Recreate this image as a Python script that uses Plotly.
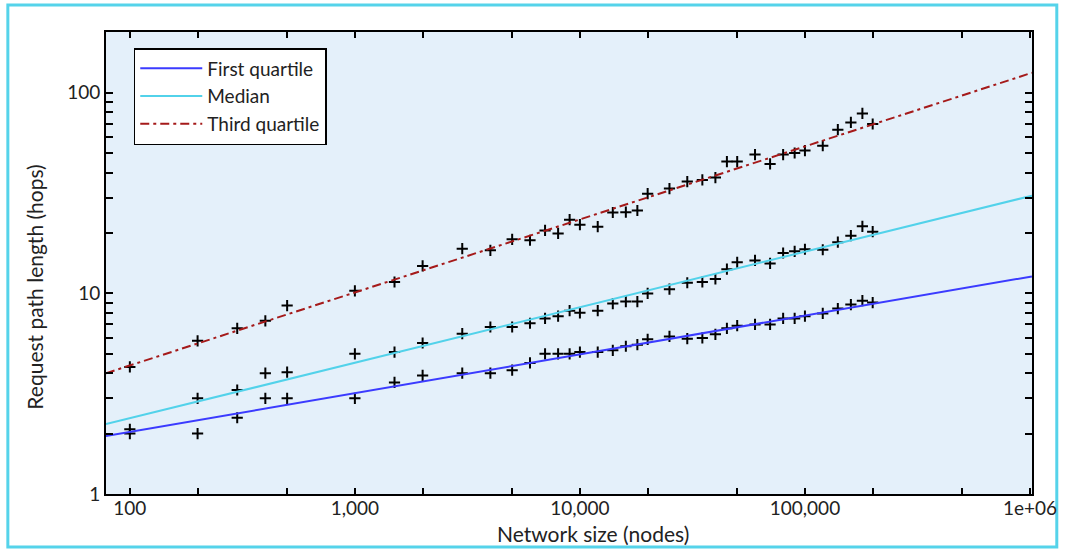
import plotly.graph_objects as go

# ---- data ----
network_size = [100, 200, 300, 400, 500, 1000, 1500, 2000, 3000, 4000, 5000, 6000, 7000, 8000,
                9000, 10000, 12000, 14000, 16000, 18000, 20000, 25000, 30000, 35000, 40000,
                45000, 50000, 60000, 70000, 80000, 90000, 100000, 120000, 140000, 160000,
                180000, 200000]
first_quartile = [2.0, 2.0, 2.4, 3.0, 3.0, 3.0, 3.6, 3.9, 4.0, 4.0, 4.14, 4.5, 5.0, 5.0, 5.0, 5.1,
                  5.1, 5.2, 5.45, 5.55, 5.9, 6.1, 5.95, 6.0, 6.25, 6.7, 6.9, 7.0, 7.0, 7.5, 7.5,
                  7.7, 7.95, 8.4, 8.8, 9.2, 9.0]
median = [2.1, 3.0, 3.3, 4.0, 4.05, 5.0, 5.1, 5.66, 6.3, 6.8, 6.8, 7.1, 7.5, 7.7, 8.2, 8.0, 8.2,
          8.9, 9.1, 9.1, 10.0, 10.5, 11.3, 11.4, 11.8, 13.2, 14.3, 14.6, 14.1, 15.9, 16.2, 16.6,
          16.5, 18.0, 19.4, 21.6, 20.3]
third_quartile = [4.3, 5.8, 6.7, 7.3, 8.7, 10.3, 11.4, 13.7, 16.7, 16.4, 18.6, 18.4, 20.6, 19.9,
                  23.3, 22.0, 21.5, 25.3, 25.4, 25.9, 31.4, 33.3, 36.1, 36.8, 37.8, 45.4, 45.4,
                  49.2, 44.2, 49.2, 50.1, 51.5, 54.5, 65.5, 71.2, 78.9, 69.9]

# fitted power-law lines (end points)
fit_x = [78.3, 1020000]
fit_first = [1.944, 12.15]
fit_median = [2.23, 30.7]
fit_third = [4.0, 125.8]

x_major = [100, 1000, 10000, 100000, 1000000]
x_major_text = ["100", "1,000", "10,000", "100,000", "1e+06"]
x_minor = [200, 500, 2000, 5000, 20000, 50000, 200000, 500000]
y_major = [1, 10, 100]
y_major_text = ["1", "10", "100"]
y_minor = [2, 3, 4, 5, 6, 7, 8, 9, 20, 30, 40, 50, 60, 70, 80, 90, 200]

X_TITLE = "Network size (nodes)"
Y_TITLE = "Request path length (hops)"

FONT = "Lato, 'Open Sans', sans-serif"

fig = go.Figure()

marker = dict(symbol="cross-thin", size=8, color="black",
              line=dict(color="black", width=2))
for ys in (first_quartile, median, third_quartile):
    fig.add_trace(go.Scatter(x=network_size, y=ys, mode="markers", marker=marker,
                             showlegend=False, hoverinfo="x+y"))

fig.add_trace(go.Scatter(x=fit_x, y=fit_first, mode="lines", name="First quartile",
                         line=dict(color="#3b3bff", width=2)))
fig.add_trace(go.Scatter(x=fit_x, y=fit_median, mode="lines", name="Median",
                         line=dict(color="#52d2ea", width=2)))
fig.add_trace(go.Scatter(x=fit_x, y=fit_third, mode="lines", name="Third quartile",
                         line=dict(color="#a51a1a", width=2, dash="9px,4px,3px,4px")))

L, R, T, B = 106, 29, 32, 58
W, H = 1069, 552
pw, ph = W - L - R, H - T - B


def px_x(p):
    return (p - L) / pw


def px_y(p):
    return 1 - (p - T) / ph


fig.update_layout(
    width=W, height=H,
    margin=dict(l=L, r=R, t=T, b=B),
    paper_bgcolor="white",
    plot_bgcolor="#e4f0fa",
    font=dict(family=FONT, color="#222222", size=18),
    showlegend=True,
    legend=dict(x=px_x(134), y=px_y(48), xanchor="left", yanchor="top",
                bgcolor="white", bordercolor="black", borderwidth=1.5,
                font=dict(family=FONT, size=19, color="#222222"),
                itemwidth=62, tracegroupgap=0),
    xaxis=dict(type="log", range=[1.894, 6.009],
               tickvals=x_major + x_minor,
               ticktext=x_major_text + [""] * len(x_minor),
               ticks="inside", ticklen=6, tickwidth=1.5, tickcolor="black",
               showline=True, linecolor="black", linewidth=2, mirror="allticks",
               showgrid=False, zeroline=False, ticklabelstandoff=-4,
               tickfont=dict(family=FONT, size=19)),
    yaxis=dict(type="log", range=[0, 2.303],
               tickvals=y_major + y_minor,
               ticktext=y_major_text + [""] * len(y_minor),
               ticks="inside", ticklen=7, tickwidth=1.5, tickcolor="black",
               showline=True, linecolor="black", linewidth=2, mirror="allticks",
               showgrid=False, zeroline=False,
               tickfont=dict(family=FONT, size=19)),
    annotations=[
        dict(text=X_TITLE, xref="paper", yref="paper", x=px_x(597), y=px_y(533),
             xanchor="center", yanchor="middle", showarrow=False,
             font=dict(family=FONT, size=21, color="#222222")),
        dict(text=Y_TITLE, xref="paper", yref="paper", x=px_x(33), y=px_y(287),
             xanchor="center", yanchor="middle", showarrow=False, textangle=-90,
             font=dict(family=FONT, size=21, color="#222222")),
    ],
    shapes=[dict(type="rect", xref="paper", yref="paper",
                 x0=px_x(7), x1=px_x(1065), y0=px_y(547), y1=px_y(5),
                 line=dict(color="#55d3ea", width=3), fillcolor="rgba(0,0,0,0)",
                 layer="below")],
)

fig.write_html("out.html")
